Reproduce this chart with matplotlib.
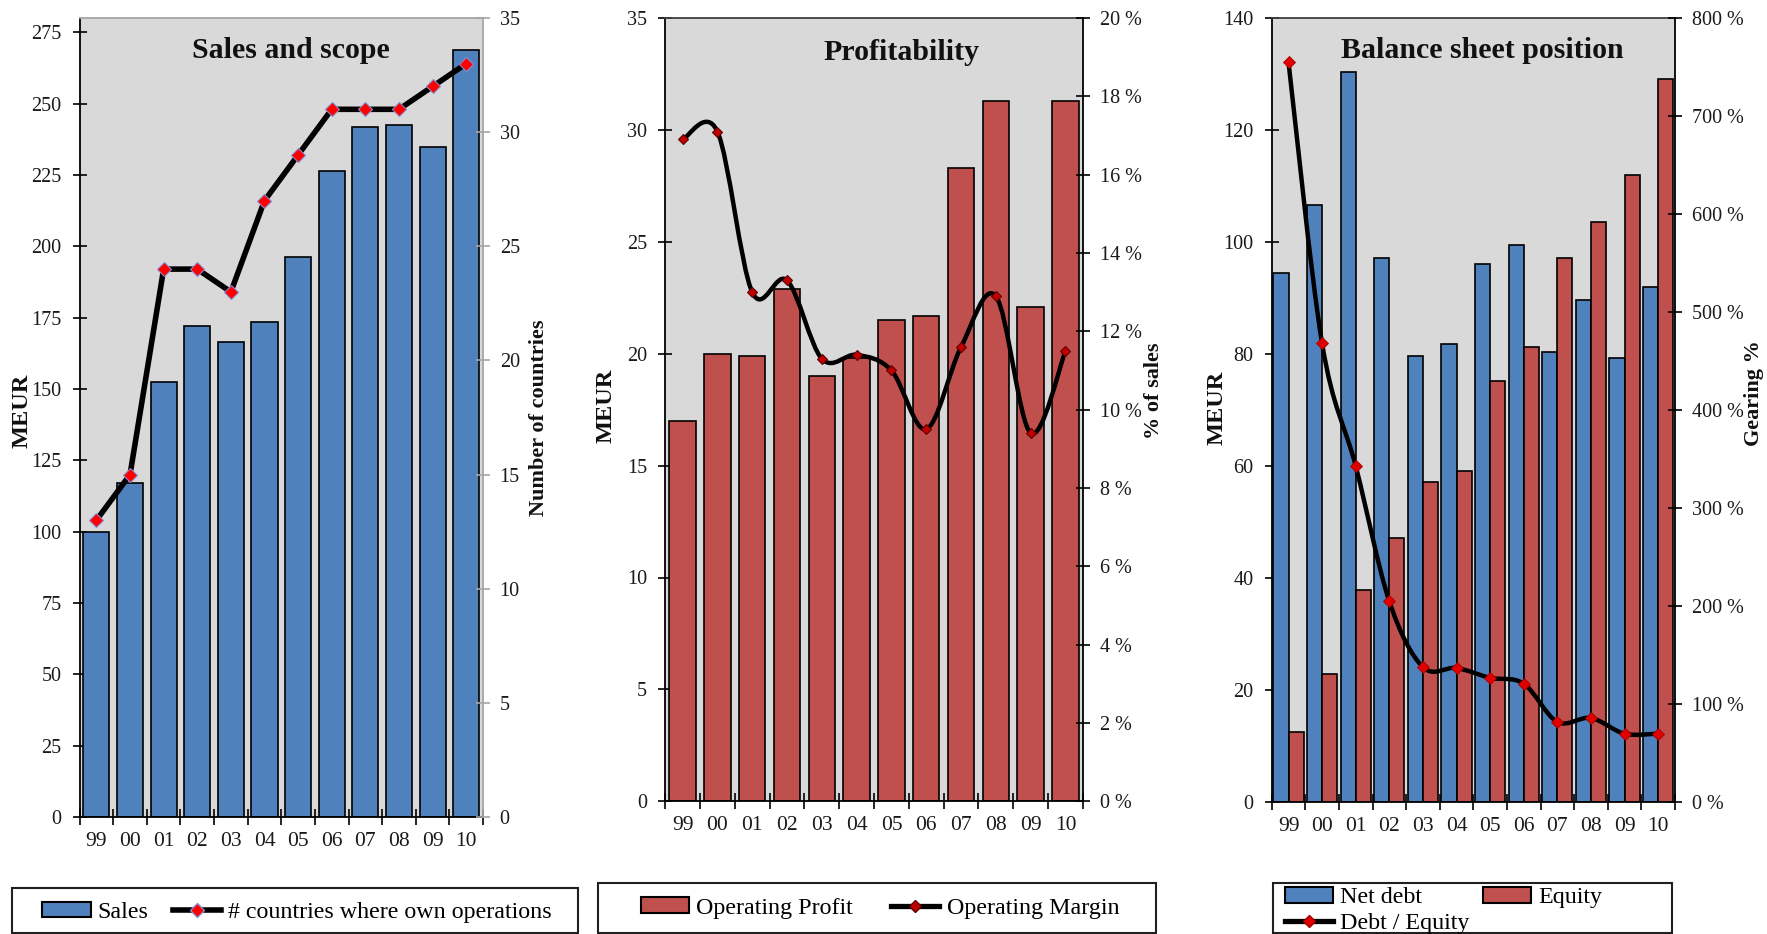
import numpy as np
import matplotlib
matplotlib.use('Agg')
import matplotlib.pyplot as plt
from matplotlib.path import Path
from matplotlib.patches import PathPatch, Rectangle, Patch
from matplotlib.lines import Line2D
from matplotlib.ticker import FixedLocator, NullFormatter, FuncFormatter

# ---------------- data ----------------
years = ['99', '00', '01', '02', '03', '04', '05', '06', '07', '08', '09', '10']
sales = [100, 117, 152.5, 172, 166.6, 173.3, 196.2, 226.5, 241.8, 242.6, 234.7, 268.9]
countries = [13, 15, 24, 24, 23, 27, 29, 31, 31, 31, 32, 33]
op_profit = [17.0, 20.0, 19.9, 22.9, 19.0, 19.8, 21.5, 21.7, 28.3, 31.3, 22.1, 31.3]
op_margin = [16.9, 17.1, 13.0, 13.3, 11.3, 11.4, 11.0, 9.5, 11.6, 12.9, 9.4, 11.5]
net_debt = [94.4, 106.7, 130.4, 97.1, 79.6, 81.8, 96.0, 99.5, 80.4, 89.6, 79.3, 92.0]
equity = [12.5, 22.9, 37.9, 47.1, 57.1, 59.1, 75.2, 81.3, 97.1, 103.6, 111.9, 129.2]
gearing = [755, 468, 343, 205, 138, 137, 127, 121, 82, 86, 70, 70]

titles = ['Sales and scope', 'Profitability', 'Balance sheet position']

# ---------------- style ----------------
W, H = 1767, 934
plt.rcParams['font.family'] = ['Liberation Serif', 'DejaVu Serif']
BG = '#d9d9d9'
BLUE = '#4f81bd'
RED = '#c0504d'
YTICKFS = 14.5
XTICKFS = 15.5
LABFS = 16
TITLEFS = 21.5
LEGFS = 17.3

fig = plt.figure(figsize=(W / 100, H / 100), dpi=100)


def px_axes(left, top, right, bottom):
    return fig.add_axes([left / W, 1 - bottom / H, (right - left) / W, (bottom - top) / H])


def smooth_path(xv, yv):
    xv = np.asarray(xv, float)
    yv = np.asarray(yv, float)
    n = len(xv)
    verts = [(xv[0], yv[0])]
    codes = [Path.MOVETO]
    for i in range(n - 1):
        i0 = max(i - 1, 0)
        i3 = min(i + 2, n - 1)
        c1 = (xv[i] + (xv[i + 1] - xv[i0]) / 6, yv[i] + (yv[i + 1] - yv[i0]) / 6)
        c2 = (xv[i + 1] - (xv[i3] - xv[i]) / 6, yv[i + 1] - (yv[i3] - yv[i]) / 6)
        verts += [c1, c2, (xv[i + 1], yv[i + 1])]
        codes += [Path.CURVE4] * 3
    return Path(verts, codes)


def setup_axes(ax, ax2, ylim, yticks, ylim2, yticks2, fmt2, right_color, top_color):
    n = len(years)
    xs = np.arange(n)
    ax.set_facecolor(BG)
    ax.set_xlim(-0.5, n - 0.5)
    ax.xaxis.set_major_locator(FixedLocator(np.arange(-0.5, n, 1.0)))
    ax.xaxis.set_major_formatter(NullFormatter())
    ax.set_xticks(xs, labels=years, minor=True)
    ax.tick_params(axis='x', which='major', direction='inout', length=11.5, width=1.2, color='black')
    ax.tick_params(axis='x', which='minor', length=0, pad=10.5, labelsize=XTICKFS, labelcolor='#1a1a1a')
    ax.set_ylim(*ylim)
    ax.set_yticks(yticks)
    ax.tick_params(axis='y', direction='inout', length=10, width=1.2, pad=8,
                   labelsize=YTICKFS, labelcolor='#1a1a1a')
    for s in ['left', 'bottom']:
        ax.spines[s].set_color('black')
        ax.spines[s].set_linewidth(1.3)
    ax.spines['top'].set_color(top_color)
    ax.spines['top'].set_linewidth(1.3)
    ax.spines['right'].set_visible(False)

    ax2.set_ylim(*ylim2)
    ax2.set_yticks(yticks2)
    ax2.yaxis.set_major_formatter(FuncFormatter(fmt2))
    ax2.tick_params(axis='y', direction='inout', length=10, width=1.2, pad=7,
                    labelsize=YTICKFS, labelcolor='#1a1a1a', color=right_color)
    for s in ['left', 'bottom', 'top']:
        ax2.spines[s].set_visible(False)
    ax2.spines['right'].set_color(right_color)
    ax2.spines['right'].set_linewidth(1.3)


def legend_box(x0, y0, x1, y1):
    fig.add_artist(Rectangle((x0 / W, 1 - y1 / H), (x1 - x0) / W, (y1 - y0) / H,
                             transform=fig.transFigure, fill=False, ec='#202020', lw=1.5))


xs = np.arange(len(years))

# ---------------- panel 1 ----------------
ax1 = px_axes(79.6, 18, 483, 817)
ax1b = ax1.twinx()
setup_axes(ax1, ax1b, (0, 280), np.arange(0, 276, 25), (0, 35), np.arange(0, 36, 5),
           lambda v, p: f'{v:.0f}', '#a6a6a6', '#a6a6a6')
ax1.bar(xs, sales, width=0.775, color=BLUE, edgecolor='black', linewidth=1.2, zorder=2)
ax1b.plot(xs, countries, color='black', lw=4.0, marker='D', ms=7.5, mfc='#ff0000',
          mec='#8a8ad0', mew=0.8, zorder=3)

# ---------------- panel 2 ----------------
ax2 = px_axes(665.2, 18, 1082.9, 801.3)
ax2b = ax2.twinx()
setup_axes(ax2, ax2b, (0, 35), np.arange(0, 36, 5), (0, 20), np.arange(0, 21, 2),
           lambda v, p: f'{v:.0f} %', 'black', '#404040')
ax2.bar(xs, op_profit, width=0.76, color=RED, edgecolor='black', linewidth=1.2, zorder=2)
ax2b.add_patch(PathPatch(smooth_path(xs, op_margin), fc='none', ec='black', lw=3.2,
                         zorder=3, capstyle='round', joinstyle='round'))
ax2b.plot(xs, op_margin, ls='none', marker='D', ms=5.5, mfc='#c00000', mec='#600000',
          mew=0.8, zorder=4)

# ---------------- panel 3 ----------------
ax3 = px_axes(1271.7, 18, 1674.9, 802.3)
ax3b = ax3.twinx()
setup_axes(ax3, ax3b, (0, 140), np.arange(0, 141, 20), (0, 800), np.arange(0, 801, 100),
           lambda v, p: f'{v:.0f} %', 'black', '#404040')
bw = 0.45
ax3.bar(xs - bw / 2, net_debt, width=bw, color=BLUE, edgecolor='black', linewidth=1.2, zorder=2)
ax3.bar(xs + bw / 2, equity, width=bw, color=RED, edgecolor='black', linewidth=1.2, zorder=2)
ax3b.add_patch(PathPatch(smooth_path(xs, gearing), fc='none', ec='black', lw=3.2,
                         zorder=3, capstyle='round', joinstyle='round'))
ax3b.plot(xs, gearing, ls='none', marker='D', ms=6.5, mfc='#e00000', mec='#a00000',
          mew=0.6, zorder=4)

# ---------------- titles & labels ----------------
for (cx, cy), t in zip([(291, 50), (901.5, 52), (1482.5, 50)], titles):
    fig.text(cx / W, 1 - cy / H, t, ha='center', va='center', fontsize=TITLEFS,
             fontweight='bold', color='#111111')

ylabels = [((22, 411), 'MEUR', 17.5), ((539, 418), 'Number of countries', LABFS),
           ((606, 406), 'MEUR', 17.5), ((1154, 391), '% of sales', LABFS),
           ((1217, 408), 'MEUR', 17.5), ((1754, 393), 'Gearing %', LABFS)]
for (cx, cy), t, fs in ylabels:
    fig.text(cx / W, 1 - cy / H, t, ha='center', va='center', rotation=90,
             fontsize=fs, fontweight='bold', color='#111111')

# ---------------- legends ----------------
h_sales = Patch(facecolor=BLUE, edgecolor='black', linewidth=1.5)
h_ctry = Line2D([], [], color='black', lw=4.0, marker='D', ms=7.5, mfc='#ff0000', mec='#8a8ad0')
h_op = Patch(facecolor=RED, edgecolor='black', linewidth=1.5)
h_om = Line2D([], [], color='black', lw=3.8, marker='D', ms=6.5, mfc='#c00000', mec='#600000')
h_nd = Patch(facecolor=BLUE, edgecolor='black', linewidth=1.5)
h_eq = Patch(facecolor=RED, edgecolor='black', linewidth=1.5)
h_de = Line2D([], [], color='black', lw=3.8, marker='D', ms=6.5, mfc='#e00000', mec='#a00000')

common = dict(frameon=False, fontsize=LEGFS, handlelength=2.0, handleheight=0.62,
              handletextpad=0.3, borderpad=0, borderaxespad=0)

legend_box(11.5, 888.3, 578, 933)
fig.legend([h_sales, h_ctry], ['Sales', '# countries where own operations'], loc='center',
           bbox_to_anchor=(297 / W, 1 - 912.5 / H), ncol=2, columnspacing=1.0, **common)

legend_box(598, 883.3, 1156, 933)
fig.legend([h_op, h_om], ['Operating Profit', 'Operating Margin'], loc='center',
           bbox_to_anchor=(880 / W, 1 - 908 / H), ncol=2, columnspacing=1.6, **common)

legend_box(1273, 883.3, 1672, 933)
fig.legend([h_nd, h_de, h_eq], ['Net debt', 'Debt / Equity', 'Equity'], loc='upper left',
           bbox_to_anchor=(1285 / W, 1 - 887 / H), ncol=2, columnspacing=0.55,
           labelspacing=0.2, **common)

fig.savefig('out.png', dpi=100)
